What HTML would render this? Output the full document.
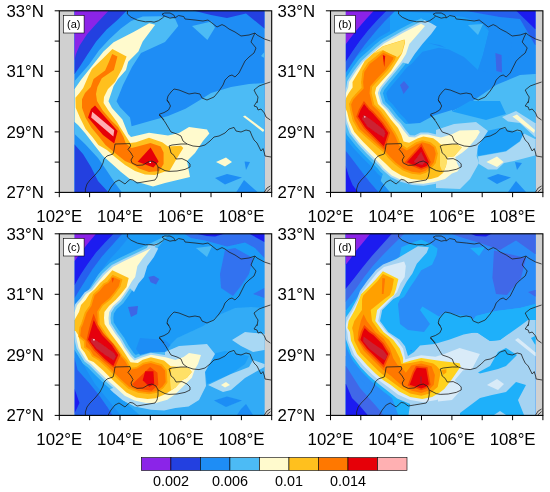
<!DOCTYPE html>
<html><head><meta charset="utf-8"><title>figure</title>
<style>
html,body{margin:0;padding:0;background:#fff;}
body{width:550px;height:492px;overflow:hidden;}
svg{display:block;}
text{font-family:"Liberation Sans",sans-serif;fill:#000;}
.tl{font-size:16.8px;}
.cb{font-size:14.4px;}
.pl{font-size:11px;}
</style></head><body>
<svg width="550" height="492" viewBox="0 0 550 492">
<defs>
<clipPath id="clipd"><rect x="74.6" y="10.8" width="189.8" height="181.6"/></clipPath>
<clipPath id="clipf"><rect x="59.3" y="10.8" width="212.4" height="181.6"/></clipPath>
<filter id="bl10" x="-5%" y="-5%" width="110%" height="110%"><feGaussianBlur stdDeviation="1.0"/></filter>
<filter id="bl07" x="-5%" y="-5%" width="110%" height="110%"><feGaussianBlur stdDeviation="0.7"/></filter>
<filter id="bl05" x="-5%" y="-5%" width="110%" height="110%"><feGaussianBlur stdDeviation="0.5"/></filter>
</defs>
<rect width="550" height="492" fill="#fff"/>

<g transform="translate(0.0,0.0)">
<rect x="59.3" y="10.8" width="212.4" height="181.6" fill="#d0d0d0"/>
<g clip-path="url(#clipd)">
<rect x="71.6" y="7.8" width="195.8" height="187.6" fill="#1e8df5"/>
<g>
<rect x="66.6" y="2.8" width="205.8" height="197.6" fill="#1e8df5"/>
<polygon fill="#4cbbf5" points="70.0,81.0 74.6,81.0 88.9,64.7 99.1,50.2 109.3,39.3 120.9,28.4 131.1,21.1 142.7,16.6 160.0,16.2 175.0,18.6 178.3,26.0 165.0,42.0 141.0,53.0 132.0,67.0 123.0,85.0 116.5,101.3 120.0,107.3 130.0,117.5 131.6,126.2 150.0,121.0 168.0,116.0 185.5,108.7 200.0,100.0 211.0,93.0 231.0,87.0 249.0,84.0 264.4,83.0 270.0,83.0 270.0,197.0 122.0,197.0 122.0,192.4 115.0,183.0 107.0,171.0 98.0,158.0 85.0,144.0 74.6,134.0 70.0,134.0"/>
<polygon fill="#4cbbf5" points="192.0,26.0 211.4,21.4 215.0,27.4 207.4,40.0"/>
<polygon fill="#4cbbf5" points="261.0,56.0 264.4,52.0 270.0,52.0 270.0,58.0 264.4,58.0"/>
<polygon fill="#1e8df5" points="215.0,178.0 227.0,174.0 242.0,177.4 225.0,184.6"/>
<polygon fill="#1e8df5" points="244.6,161.4 250.0,162.0 246.0,170.0"/>
<polygon fill="#1e8df5" points="244.0,180.0 236.0,192.4 236.0,197.0 258.0,197.0 258.0,192.4"/>
<polygon fill="#2340e0" points="70.0,5.0 126.7,5.0 126.7,10.6 118.0,19.6 106.4,29.8 96.2,41.5 87.5,54.5 80.2,66.0 74.6,74.0 70.0,74.0"/>
<polygon fill="#2340e0" points="70.0,144.6 74.6,144.6 83.0,154.0 91.0,167.0 98.0,181.0 108.6,192.4 108.6,197.0 70.0,197.0"/>
<polygon fill="#2340e0" points="193.0,5.0 193.0,10.6 211.0,15.0 227.0,18.0 246.0,13.4 264.4,28.6 270.0,28.6 270.0,5.0"/>
<polygon fill="#8b24e8" points="70.0,5.0 108.8,5.0 108.8,10.6 97.5,22.5 87.0,34.2 79.5,45.8 75.8,54.5 74.6,60.0 70.0,60.0"/>
<polygon fill="#fffacd" points="70.0,89.0 74.6,89.0 81.6,79.0 91.8,66.2 103.5,51.6 113.6,42.2 134.0,31.7 149.2,23.3 155.2,24.8 142.7,41.5 138.4,51.6 128.2,61.8 126.0,70.0 118.0,79.0 113.6,86.0 108.5,101.3 112.0,108.0 122.4,119.5 128.2,134.0 131.0,137.0 149.0,132.7 168.0,135.6 179.0,133.0 189.0,127.0 207.0,129.5 209.4,133.4 203.0,141.0 195.0,153.0 187.0,161.0 190.0,177.0 165.0,183.0 153.0,186.6 141.0,183.0 131.0,180.0 121.0,172.0 111.0,163.0 103.0,156.0 95.0,146.0 85.0,133.0 78.0,125.0 74.6,122.0 70.0,122.0"/>
<polygon fill="#fffacd" points="216.0,162.0 226.0,157.4 232.0,162.0 225.0,166.6"/>
<polygon fill="#fffacd" points="243.0,116.6 245.0,115.4 264.4,130.0 263.0,132.0"/>
<polygon fill="#ffc01e" points="112.4,48.9 126.6,56.6 122.0,69.0 115.0,82.0 108.0,89.0 104.0,97.0 103.6,103.0 108.4,110.6 117.0,122.0 120.0,127.0 130.2,143.0 136.0,142.2 149.0,137.8 162.2,142.2 168.0,146.5 181.0,145.8 183.3,148.0 175.3,161.0 169.5,171.0 165.0,171.5 155.0,175.0 145.0,174.5 135.0,171.0 125.0,165.0 115.0,157.0 107.0,150.0 98.4,145.0 92.8,137.6 85.6,129.0 80.0,117.7 75.7,107.7 75.4,97.8 79.5,93.0 83.2,88.0 88.6,75.6 91.9,69.0 102.9,58.6"/>
<polygon fill="#ff7800" points="112.2,53.9 117.4,56.4 113.9,70.1 101.8,78.3 97.4,87.0 96.0,94.0 97.0,101.0 102.7,110.6 111.3,120.5 118.0,127.0 123.5,137.0 125.8,143.6 131.6,148.0 137.5,146.5 150.5,143.0 160.7,146.5 163.6,152.4 163.6,164.0 159.3,171.0 149.0,172.0 139.0,168.5 132.0,164.0 125.0,161.0 115.0,153.0 105.5,145.0 98.4,136.0 91.3,127.6 85.6,117.7 82.0,107.7 82.0,99.2 85.0,93.0 90.8,87.0 93.6,78.9 105.1,70.6 108.9,61.9"/>
<polygon fill="#e60008" points="95.0,105.4 106.0,118.0 117.6,131.0 114.2,143.4 103.0,135.0 88.0,117.4 91.0,109.0"/>
<polygon fill="#ffb0b2" points="92.2,111.8 114.2,130.2 113.4,136.6 91.2,117.6"/>
<polygon fill="#e60008" points="150.6,147.4 158.6,161.4 153.4,167.4 137.6,161.8"/>
<polygon fill="#ffffff" points="149.3,161.3 151.0,161.3 151.0,163.0 149.3,163.0"/>
</g></g>
<g clip-path="url(#clipf)" fill="none" stroke="#202020" stroke-width="0.8" stroke-linejoin="round">
<polyline points="127.5,10.8 127.3,14.0 131.0,17.2 137.5,20.2 145.4,21.8 151.0,21.6 154.0,22.2 158.5,20.7 162.4,18.0 164.5,16.0 162.0,14.2 164.5,13.0 170.0,13.0 173.7,14.9 175.3,17.7 178.6,15.5 183.8,16.6 185.0,19.0"/>
<polyline points="164.5,16.0 170.0,18.2 173.0,17.6 175.3,17.7"/>
<polyline points="185.0,19.0 195.0,20.0 203.0,21.0 208.0,20.0 212.0,23.0 217.0,27.0 222.0,24.6 225.0,26.0 229.0,29.0 235.0,32.0 241.0,36.0 249.0,35.0 255.0,33.0 257.0,35.0 264.4,39.0 270.4,41.0"/>
<polyline points="255.0,33.0 253.0,37.0 251.0,42.0 256.0,48.0 254.0,53.0 249.0,57.0 245.0,61.0 242.0,67.0 239.0,73.0 235.0,77.0 232.0,75.0 229.0,76.0 225.0,80.0 223.0,85.0 219.0,91.0 214.0,97.0 207.0,100.0 202.0,98.0 200.0,94.0 195.0,93.0 189.0,94.0 184.0,92.0 179.0,90.0 174.0,89.0 171.0,92.0 168.0,96.0 167.0,100.0 169.0,103.0"/>
<polyline points="270.4,82.0 264.4,84.0 259.0,86.0 254.0,90.0 256.0,94.0 258.0,97.0 257.0,103.0"/>
<polyline points="167.0,100.0 169.0,103.0 170.5,106.0 168.5,110.0 164.0,112.6 159.3,114.2 161.5,117.0 164.0,120.0"/>
<polyline points="159.0,115.0 162.0,118.0 165.0,122.0 168.0,127.0 171.0,132.0 177.0,134.0 181.0,136.0 183.0,141.0 187.0,144.0 193.0,146.0 199.0,146.6 205.0,145.0 210.0,141.0 214.0,137.0 219.0,136.0 225.0,133.0 229.0,129.0 234.0,127.4 236.0,131.0 241.0,132.0 246.0,130.0 250.0,131.0 252.0,136.0 254.0,140.0 257.0,143.0 259.0,147.0 261.0,151.0 263.0,148.6 264.4,153.0 265.0,156.0 271.0,157.0"/>
<polyline points="187.0,144.0 181.0,144.0 172.0,145.0 169.0,146.0 170.0,149.0 171.0,153.0 174.0,155.4 176.0,159.0 182.0,158.6 187.0,161.0 190.0,164.0 190.0,167.0 185.0,169.4 177.0,171.0 169.0,171.4 165.0,170.6 158.0,167.0"/>
<polyline points="257.0,101.4 256.0,103.0 254.0,106.0 257.0,107.0 258.0,110.0 261.0,109.0 264.4,113.0 266.0,117.0 270.4,120.0"/>
<polyline points="264.4,192.0 267.0,188.0 270.4,186.0"/>
<polyline points="266.6,192.0 270.4,188.6"/>
<polyline points="115.0,144.0 130.0,143.6 130.6,146.0 128.0,149.4 131.0,153.0 133.0,156.6 131.0,160.0 132.0,163.0 137.0,165.4 143.0,165.0 148.0,162.0 152.0,161.0 156.0,163.0 158.0,167.0 158.0,172.0 157.0,177.0 155.0,180.0 149.0,181.0 143.0,182.0 137.0,183.0 133.0,180.0 130.0,179.4 127.0,182.0 125.0,184.0 119.0,180.0 115.0,182.0 111.0,187.0 108.0,192.4"/>
<polyline points="115.0,144.0 114.0,150.0 113.0,154.0 107.0,156.0 104.0,159.0 103.0,163.0 100.0,169.0 95.0,175.0 90.0,180.0 87.0,184.0 85.4,189.0 85.4,192.4"/>
</g>
<rect x="59.3" y="10.8" width="212.4" height="181.6" fill="none" stroke="#000" stroke-width="1.1"/>
<path d="M59.3 10.8h-4.6M59.3 41.1h-4.6M59.3 71.3h-4.6M59.3 101.6h-4.6M59.3 131.9h-4.6M59.3 162.1h-4.6M59.3 192.4h-4.6M59.3 192.4v4.8M89.6 192.4v4.8M120.0 192.4v4.8M150.3 192.4v4.8M180.7 192.4v4.8M211.0 192.4v4.8M241.4 192.4v4.8M271.7 192.4v4.8" stroke="#000" stroke-width="1.0" fill="none"/>
<text class="tl" x="43.9" y="16.8" text-anchor="end">33°N</text>
<text class="tl" x="43.9" y="77.3" text-anchor="end">31°N</text>
<text class="tl" x="43.9" y="137.9" text-anchor="end">29°N</text>
<text class="tl" x="43.9" y="198.4" text-anchor="end">27°N</text>
<text class="tl" x="59.3" y="222.0" text-anchor="middle">102°E</text>
<text class="tl" x="120.0" y="222.0" text-anchor="middle">104°E</text>
<text class="tl" x="180.7" y="222.0" text-anchor="middle">106°E</text>
<text class="tl" x="241.4" y="222.0" text-anchor="middle">108°E</text>
<rect x="63.5" y="15.4" width="20.6" height="17.6" fill="#fff" stroke="#000" stroke-width="0.6"/>
<text class="pl" x="73.8" y="27.6" text-anchor="middle">(a)</text>
</g>
<g transform="translate(271.2,0.0)">
<rect x="59.3" y="10.8" width="212.4" height="181.6" fill="#d0d0d0"/>
<g clip-path="url(#clipd)">
<rect x="71.6" y="7.8" width="195.8" height="187.6" fill="#1e8df5"/>
<g filter="url(#bl07)">
<rect x="66.6" y="2.8" width="205.8" height="197.6" fill="#1e8df5"/>
<polygon fill="#1e9ff8" points="118.8,11.0 156.8,13.0 168.8,14.0 192.8,17.0 211.8,24.0 217.8,31.0 211.8,55.0 206.8,70.0 192.8,57.0 168.8,45.0 156.8,43.0 183.8,50.6 167.7,47.8 151.2,51.7 140.2,64.0 123.8,75.0 108.8,60.0 118.8,40.0"/>
<polygon fill="#1e9ff8" points="60.8,87.0 60.8,119.7 67.6,120.0 68.2,123.1 73.0,136.4 82.2,148.2 91.2,157.7 97.8,164.2 104.0,170.7 106.5,173.8 116.1,182.3 127.4,187.5 139.8,191.1 152.6,191.8 164.9,189.9 177.5,186.1 184.6,180.6 191.4,178.1 197.7,168.7 193.6,160.8 193.5,160.6 195.3,159.4 201.6,154.3 211.4,143.3 218.3,131.5 210.8,121.8 186.4,122.5 177.7,126.8 169.4,129.3 166.6,128.7 157.8,126.5 147.9,126.5 142.2,129.3 141.8,129.3 139.1,126.1 133.9,118.8 128.8,113.7 121.8,104.7 116.9,99.8 115.0,93.4 115.8,91.5 119.4,87.1 128.7,76.1 136.3,66.6 142.1,57.3 145.2,48.1 151.8,40.5 166.2,23.9 150.0,14.6 137.2,21.2 128.2,25.8 118.9,31.0 108.4,37.0 101.6,42.4 95.3,48.1 85.9,56.6 78.5,66.4 70.1,79.1 69.2,85.3 68.6,87.0 60.8,87.0"/>
<polygon fill="#4cbbf5" points="64.0,90.2 64.0,116.6 70.3,116.9 71.3,122.3 75.9,134.9 84.7,146.1 93.5,155.5 100.1,162.0 106.5,168.6 108.8,171.6 117.9,179.6 128.5,184.5 140.4,188.0 152.4,188.6 164.2,186.8 176.0,183.2 183.1,177.8 189.3,175.5 194.0,168.5 190.6,162.0 189.7,159.3 193.4,156.8 199.4,152.0 208.8,141.4 214.5,131.7 209.3,125.0 187.2,125.6 178.9,129.8 169.6,132.6 165.9,131.8 157.4,129.7 148.7,129.7 142.9,132.6 140.2,132.4 136.6,128.1 131.5,120.9 126.4,115.8 119.4,106.8 114.1,101.5 111.7,93.2 113.0,89.9 116.9,85.1 126.2,74.1 133.7,64.8 139.2,55.9 142.3,46.4 149.4,38.4 161.3,24.7 149.9,18.2 138.6,24.0 129.7,28.6 120.4,33.8 110.2,39.6 103.7,44.8 97.5,50.4 88.2,58.7 81.1,68.2 73.2,80.3 72.3,86.2 70.7,90.2 64.0,90.2"/>
<polygon fill="#4cbbf5" points="128.8,120.0 134.8,124.0 148.8,123.0 162.8,115.4 180.8,110.0 180.8,111.0 198.8,103.0 198.8,103.0 224.8,85.0 248.8,75.0 263.8,74.0 268.8,74.0 268.8,109.0 268.8,197.0 108.8,197.0 108.8,183.0"/>
<polygon fill="#4cbbf5" points="196.8,25.0 211.8,24.0 206.8,35.0"/>
<polygon fill="#1e8df5" points="211.8,24.0 218.8,25.0 234.8,31.0 240.8,45.0 234.8,65.0 228.8,75.0 206.8,70.0 211.8,55.0 217.8,31.0"/>
<polygon fill="#3c66e6" points="224.2,53.0 230.4,55.0 230.8,72.6 225.2,71.0"/>
<polygon fill="#3c66e6" points="128.8,85.0 132.8,81.0 137.8,87.0 132.4,94.0"/>
<polygon fill="#1e8df5" points="215.8,178.0 226.8,174.0 239.8,177.4 225.8,184.0"/>
<polygon fill="#1e8df5" points="243.8,162.0 250.8,163.0 245.8,170.0"/>
<polygon fill="#1e8df5" points="244.8,181.0 236.8,192.0 236.8,197.0 254.8,197.0 254.8,192.0"/>
<polygon fill="#2860ee" points="68.8,5.0 123.8,5.0 123.8,11.0 113.8,21.0 104.0,32.0 94.2,44.0 85.4,56.0 74.3,73.0 68.8,73.0"/>
<polygon fill="#1c1cf0" points="68.8,5.0 115.0,5.0 115.0,11.0 106.2,19.9 97.4,29.7 88.7,40.7 81.0,51.7 74.3,62.0 68.8,62.0"/>
<polygon fill="#8b24e8" points="68.8,5.0 102.4,5.0 102.4,11.0 95.2,18.8 87.6,27.5 78.8,38.5 74.3,44.5 68.8,44.5"/>
<polygon fill="#1e8df5" points="68.8,140.0 74.5,140.0 80.3,147.0 91.7,158.5 101.9,171.2 110.8,182.6 118.4,191.8 118.4,197.0 68.8,197.0"/>
<polygon fill="#2860ee" points="68.8,150.8 74.5,150.8 81.5,159.7 89.2,169.9 98.1,181.4 107.0,191.8 107.0,197.0 68.8,197.0"/>
<polygon fill="#1c1cf0" points="68.8,166.0 74.5,166.0 77.7,176.3 81.5,185.2 86.6,191.8 86.6,197.0 68.8,197.0"/>
<polygon fill="#2860ee" points="192.8,5.0 192.8,10.6 208.8,13.4 228.8,17.0 248.8,19.0 263.8,45.0 268.8,45.0 268.8,5.0"/>
<polygon fill="#1c1cf0" points="244.8,5.0 244.8,10.6 263.8,29.0 268.8,29.0 268.8,5.0"/>
<polygon fill="#a8d8f4" points="66.9,93.1 66.9,113.8 72.7,114.0 74.1,121.5 78.4,133.4 86.9,144.2 95.5,153.4 102.1,159.9 108.7,166.7 110.9,169.6 119.5,177.1 129.5,181.8 140.9,185.1 152.3,185.7 163.5,184.0 174.7,180.6 181.6,175.2 187.4,173.1 190.6,168.3 188.0,163.2 186.3,158.1 191.7,154.4 197.4,149.9 206.4,139.7 211.0,132.0 207.9,128.0 187.9,128.5 180.0,132.5 169.7,135.5 165.2,134.6 157.0,132.6 149.4,132.6 143.4,135.6 138.8,135.2 134.3,129.8 129.3,122.8 124.2,117.7 117.2,108.7 111.5,103.0 108.6,93.1 110.5,88.4 114.7,83.2 124.0,72.2 131.4,63.1 136.5,54.7 139.8,45.0 147.2,36.4 156.7,25.5 149.9,21.5 139.9,26.6 131.1,31.1 121.9,36.3 111.8,42.0 105.6,47.1 99.4,52.6 90.4,60.7 83.4,69.9 76.0,81.3 75.2,86.9 73.0,92.4 72.8,93.1 66.9,93.1"/>
<polygon fill="#a8d8f4" points="152.8,20.0 160.0,23.2 165.5,26.4 160.0,34.1 151.2,44.0 143.5,53.9 137.0,64.0 129.8,62.0 138.1,44.0 145.8,35.2"/>
<polygon fill="#1e9ff8" points="206.8,133.0 228.8,128.0 252.8,133.0 248.8,141.0 234.8,151.0 206.8,156.0 205.4,146.0"/>
<polygon fill="#1e9ff8" points="198.8,101.0 228.8,101.0 234.8,114.0 214.8,120.0 180.8,111.4"/>
<polygon fill="#a8d8f4" points="164.8,130.0 182.8,124.0 204.8,122.0 216.8,131.0 206.8,146.0 205.4,156.0 207.8,163.0 198.8,179.0 188.8,189.0 164.8,188.0"/>
<polygon fill="#a8d8f4" points="206.8,156.6 234.8,151.6 248.8,141.6 252.8,133.4 263.8,139.0 268.8,139.0 268.8,155.4 263.8,155.4 242.8,161.0 232.8,163.0 225.8,169.4 216.8,169.4 207.8,164.0"/>
<polygon fill="#a8d8f4" points="230.8,117.0 244.8,111.0 263.8,123.0 268.8,123.0 268.8,137.0 263.8,137.0 248.8,123.0 236.8,121.4"/>
<polygon fill="#fffacd" points="68.8,95.0 74.3,95.0 74.8,93.0 77.0,87.4 77.8,82.0 85.0,71.0 91.8,62.0 100.7,54.0 106.8,48.5 112.9,43.6 122.8,38.0 132.0,32.8 140.8,28.3 149.8,23.7 153.8,26.0 145.8,35.2 138.1,44.0 134.8,53.9 129.8,62.0 122.5,71.0 113.2,82.0 108.8,87.4 106.6,93.0 109.8,104.0 115.8,110.0 122.8,119.0 127.8,124.0 132.8,131.0 137.8,137.0 143.8,137.5 149.8,134.5 156.8,134.5 164.8,136.5 169.8,137.5 180.7,134.3 188.4,130.4 207.0,129.9 208.7,132.1 204.9,138.6 196.1,148.5 190.6,152.9 184.0,157.3 186.2,163.9 188.4,168.2 186.2,171.5 180.7,173.5 173.8,178.9 163.1,182.1 152.2,183.8 141.2,183.2 130.2,180.0 120.5,175.5 112.3,168.3 110.1,165.5 103.5,158.6 96.9,152.1 88.3,143.0 80.1,132.5 75.9,121.0 74.3,112.2 68.8,112.0"/>
<polygon fill="#fffacd" points="215.2,162.0 225.8,156.6 232.4,162.0 225.8,167.0"/>
<polygon fill="#fffacd" points="241.2,116.6 245.8,114.6 263.8,130.0 262.8,133.0"/>
<polygon fill="#ffc01e" points="68.8,100.0 74.1,100.0 75.3,97.0 77.6,93.0 81.4,87.4 81.3,82.0 88.0,71.0 93.5,61.0 101.8,53.5 111.7,46.2 133.3,39.5 133.8,43.0 130.8,53.5 126.8,60.0 119.8,71.0 109.8,82.0 105.0,87.4 103.7,93.0 106.8,104.0 112.8,110.0 119.3,119.0 126.8,128.0 130.2,135.0 132.4,141.6 137.9,142.7 146.7,138.3 152.2,136.6 162.0,138.3 165.8,141.0 169.8,144.7 185.1,144.1 190.6,147.4 182.9,156.2 176.3,157.3 174.8,166.0 171.8,173.0 166.8,177.0 159.8,178.9 150.0,180.0 140.1,178.9 130.2,175.6 120.7,169.8 113.8,163.0 107.3,157.1 100.7,150.5 92.1,142.0 83.1,131.9 78.1,121.0 75.9,112.0 74.1,108.0 68.8,108.0"/>
<polygon fill="#ffe066" points="169.8,144.7 185.1,144.1 190.6,147.4 182.9,156.2 176.3,157.3 174.8,166.0 171.8,173.0 168.8,166.0 168.8,150.0"/>
<polygon fill="#ffe066" points="102.8,53.5 111.7,46.6 132.8,40.0 133.3,43.0 130.3,53.5 126.3,57.0 118.8,54.0 111.7,50.0"/>
<polygon fill="#ffa000" points="81.5,120.7 86.9,130.3 96.7,139.0 105.5,146.7 113.3,153.3 117.4,158.5 123.1,164.0 131.7,170.5 140.3,173.7 148.8,174.8 155.1,172.7 160.3,168.4 164.6,163.1 166.7,153.6 164.6,146.5 159.4,142.3 151.1,140.2 144.8,142.3 135.7,148.0 129.6,144.3 126.3,136.3 124.1,132.3 117.1,121.5 109.2,110.5 103.1,104.4 100.3,93.1 100.9,87.1 106.0,81.5 116.4,70.5 123.5,60.6 124.9,56.4 111.8,50.4 104.5,56.6 96.9,62.5 91.2,71.3 89.9,82.0 90.4,87.7 84.8,93.5 80.5,98.4 77.8,104.1 79.2,111.8 81.5,120.7"/>
<polygon fill="#ff7800" points="83.4,119.9 88.5,129.0 98.1,137.5 106.8,145.2 114.7,151.9 118.9,157.1 124.4,162.5 132.7,168.7 140.8,171.8 148.6,172.7 154.1,170.9 158.9,167.0 162.7,162.3 164.6,153.7 162.9,147.6 158.5,144.2 151.2,142.3 145.7,144.2 135.7,150.4 128.0,145.7 124.5,137.2 122.4,133.3 115.5,122.6 107.7,111.8 101.3,105.4 98.3,93.2 99.0,86.2 104.5,80.1 114.8,69.2 121.7,59.7 122.4,57.5 112.1,52.8 105.8,58.2 98.4,63.9 93.1,72.0 91.9,82.0 92.5,88.4 86.3,94.9 82.2,99.5 79.9,104.4 81.1,111.4 83.4,119.9"/>
<polygon fill="#f84800" points="92.7,100.9 87.8,109.3 85.0,116.8 92.7,128.6 113.5,149.4 118.9,132.7 111.8,122.2 101.8,111.0 99.0,108.8 92.7,100.9"/>
<polygon fill="#e60008" points="92.9,103.9 97.8,110.0 100.6,112.2 110.5,123.2 117.0,133.0 112.7,146.2 105.0,138.5 94.0,127.5 86.9,116.6 89.3,110.0"/>
<polygon fill="#cc2030" points="92.4,114.4 101.7,121.0 112.7,129.7 114.3,133.6 112.7,137.4 105.0,133.0 96.2,126.4 90.7,118.8"/>
<polygon fill="#ffffff" points="93.0,116.2 94.2,116.2 94.2,117.6 93.0,117.6"/>
<polygon fill="#f84800" points="150.4,143.5 132.8,162.9 150.0,169.7 157.3,167.0 159.6,161.9 150.4,143.5"/>
<polygon fill="#e60008" points="150.0,146.5 157.7,161.9 156.0,165.7 150.0,167.9 135.7,162.2"/>
<polygon fill="#cc2030" points="150.0,151.4 154.4,161.3 151.1,165.2 142.3,161.9"/>
<polygon fill="#e60008" points="111.6,55.0 114.0,56.0 113.0,67.0"/>
</g></g>
<g clip-path="url(#clipf)" fill="none" stroke="#202020" stroke-width="0.8" stroke-linejoin="round">
<polyline points="127.5,10.8 127.3,14.0 131.0,17.2 137.5,20.2 145.4,21.8 151.0,21.6 154.0,22.2 158.5,20.7 162.4,18.0 164.5,16.0 162.0,14.2 164.5,13.0 170.0,13.0 173.7,14.9 175.3,17.7 178.6,15.5 183.8,16.6 185.0,19.0"/>
<polyline points="164.5,16.0 170.0,18.2 173.0,17.6 175.3,17.7"/>
<polyline points="185.0,19.0 195.0,20.0 203.0,21.0 208.0,20.0 212.0,23.0 217.0,27.0 222.0,24.6 225.0,26.0 229.0,29.0 235.0,32.0 241.0,36.0 249.0,35.0 255.0,33.0 257.0,35.0 264.4,39.0 270.4,41.0"/>
<polyline points="255.0,33.0 253.0,37.0 251.0,42.0 256.0,48.0 254.0,53.0 249.0,57.0 245.0,61.0 242.0,67.0 239.0,73.0 235.0,77.0 232.0,75.0 229.0,76.0 225.0,80.0 223.0,85.0 219.0,91.0 214.0,97.0 207.0,100.0 202.0,98.0 200.0,94.0 195.0,93.0 189.0,94.0 184.0,92.0 179.0,90.0 174.0,89.0 171.0,92.0 168.0,96.0 167.0,100.0 169.0,103.0"/>
<polyline points="270.4,82.0 264.4,84.0 259.0,86.0 254.0,90.0 256.0,94.0 258.0,97.0 257.0,103.0"/>
<polyline points="167.0,100.0 169.0,103.0 170.5,106.0 168.5,110.0 164.0,112.6 159.3,114.2 161.5,117.0 164.0,120.0"/>
<polyline points="159.0,115.0 162.0,118.0 165.0,122.0 168.0,127.0 171.0,132.0 177.0,134.0 181.0,136.0 183.0,141.0 187.0,144.0 193.0,146.0 199.0,146.6 205.0,145.0 210.0,141.0 214.0,137.0 219.0,136.0 225.0,133.0 229.0,129.0 234.0,127.4 236.0,131.0 241.0,132.0 246.0,130.0 250.0,131.0 252.0,136.0 254.0,140.0 257.0,143.0 259.0,147.0 261.0,151.0 263.0,148.6 264.4,153.0 265.0,156.0 271.0,157.0"/>
<polyline points="187.0,144.0 181.0,144.0 172.0,145.0 169.0,146.0 170.0,149.0 171.0,153.0 174.0,155.4 176.0,159.0 182.0,158.6 187.0,161.0 190.0,164.0 190.0,167.0 185.0,169.4 177.0,171.0 169.0,171.4 165.0,170.6 158.0,167.0"/>
<polyline points="257.0,101.4 256.0,103.0 254.0,106.0 257.0,107.0 258.0,110.0 261.0,109.0 264.4,113.0 266.0,117.0 270.4,120.0"/>
<polyline points="264.4,192.0 267.0,188.0 270.4,186.0"/>
<polyline points="266.6,192.0 270.4,188.6"/>
<polyline points="115.0,144.0 130.0,143.6 130.6,146.0 128.0,149.4 131.0,153.0 133.0,156.6 131.0,160.0 132.0,163.0 137.0,165.4 143.0,165.0 148.0,162.0 152.0,161.0 156.0,163.0 158.0,167.0 158.0,172.0 157.0,177.0 155.0,180.0 149.0,181.0 143.0,182.0 137.0,183.0 133.0,180.0 130.0,179.4 127.0,182.0 125.0,184.0 119.0,180.0 115.0,182.0 111.0,187.0 108.0,192.4"/>
<polyline points="115.0,144.0 114.0,150.0 113.0,154.0 107.0,156.0 104.0,159.0 103.0,163.0 100.0,169.0 95.0,175.0 90.0,180.0 87.0,184.0 85.4,189.0 85.4,192.4"/>
</g>
<rect x="59.3" y="10.8" width="212.4" height="181.6" fill="none" stroke="#000" stroke-width="1.1"/>
<path d="M59.3 10.8h-4.6M59.3 41.1h-4.6M59.3 71.3h-4.6M59.3 101.6h-4.6M59.3 131.9h-4.6M59.3 162.1h-4.6M59.3 192.4h-4.6M59.3 192.4v4.8M89.6 192.4v4.8M120.0 192.4v4.8M150.3 192.4v4.8M180.7 192.4v4.8M211.0 192.4v4.8M241.4 192.4v4.8M271.7 192.4v4.8" stroke="#000" stroke-width="1.0" fill="none"/>
<text class="tl" x="43.9" y="16.8" text-anchor="end">33°N</text>
<text class="tl" x="43.9" y="77.3" text-anchor="end">31°N</text>
<text class="tl" x="43.9" y="137.9" text-anchor="end">29°N</text>
<text class="tl" x="43.9" y="198.4" text-anchor="end">27°N</text>
<text class="tl" x="59.3" y="222.0" text-anchor="middle">102°E</text>
<text class="tl" x="120.0" y="222.0" text-anchor="middle">104°E</text>
<text class="tl" x="180.7" y="222.0" text-anchor="middle">106°E</text>
<text class="tl" x="241.4" y="222.0" text-anchor="middle">108°E</text>
<rect x="63.5" y="15.4" width="20.6" height="17.6" fill="#fff" stroke="#000" stroke-width="0.6"/>
<text class="pl" x="73.8" y="27.6" text-anchor="middle">(b)</text>
</g>
<g transform="translate(0.0,223.0)">
<rect x="59.3" y="10.8" width="212.4" height="181.6" fill="#d0d0d0"/>
<g clip-path="url(#clipd)">
<rect x="71.6" y="7.8" width="195.8" height="187.6" fill="#1e9bf7"/>
<g filter="url(#bl07)">
<rect x="66.6" y="2.8" width="205.8" height="197.6" fill="#1e9bf7"/>
<polygon fill="#30abf6" points="203.0,103.0 221.0,91.0 235.0,85.0 251.0,84.0 264.4,85.0 269.0,85.0 269.0,109.0 269.0,197.0 145.0,197.0 125.0,179.0 145.0,139.0 165.0,127.0 177.0,115.0"/>
<polygon fill="#4cbbf5" points="65.2,84.2 65.2,110.8 70.8,110.8 70.8,111.0 72.4,119.8 74.1,126.8 78.0,133.3 82.4,140.3 87.6,144.3 96.2,152.9 104.0,160.6 111.7,167.3 122.0,176.7 132.9,182.2 145.5,184.9 156.5,184.9 169.4,181.2 178.6,174.8 188.7,164.7 195.9,157.3 199.3,148.1 202.4,143.0 207.3,128.2 187.8,124.9 181.3,129.7 175.3,132.0 166.6,129.6 150.6,126.9 141.1,129.8 135.7,131.9 133.7,129.9 128.5,122.5 124.0,114.4 119.4,108.2 113.7,99.4 113.3,95.1 113.8,90.6 116.7,86.1 123.2,80.2 127.9,73.7 132.7,66.5 135.9,60.9 139.7,55.9 141.9,44.9 146.7,38.1 168.3,11.7 135.3,27.5 121.1,34.3 110.2,39.8 100.5,48.7 93.2,57.5 88.9,63.4 82.5,67.4 77.9,74.0 72.9,79.5 71.2,84.2 65.2,84.2"/>
<polygon fill="#1e9ff8" points="204.0,133.0 225.0,128.0 249.0,133.0 245.0,141.0 231.0,151.0 207.0,161.0 205.0,148.0"/>
<polygon fill="#1e8df5" points="136.0,126.0 140.0,132.0 150.0,129.5 165.0,129.0 170.6,122.0 165.0,117.0 140.0,115.0"/>
<polygon fill="#3c66e6" points="148.4,53.9 153.9,52.8 159.3,56.0 156.0,61.5 150.6,59.3"/>
<polygon fill="#3c66e6" points="128.0,84.0 138.0,83.0 137.0,91.0 131.0,94.0"/>
<polygon fill="#3272f0" points="225.0,27.0 235.0,25.0 253.0,35.0 249.0,51.0 241.0,63.0 233.0,73.0 221.0,65.0 220.0,51.0"/>
<polygon fill="#3272f0" points="253.0,71.0 264.4,65.0 269.0,65.0 269.0,75.0 264.4,75.0 259.0,73.0"/>
<polygon fill="#4cbbf5" points="196.0,25.0 212.0,23.0 207.0,34.0"/>
<polygon fill="#1e8df5" points="214.0,177.4 227.0,173.4 242.0,177.4 226.0,184.0"/>
<polygon fill="#1e8df5" points="241.0,186.0 246.0,181.0 253.0,192.0 253.0,197.0 237.0,197.0 237.0,192.0"/>
<polygon fill="#1e8df5" points="70.0,5.0 129.8,5.0 129.8,13.3 118.9,26.4 107.9,38.5 98.0,51.7 90.4,64.0 80.0,80.0 70.0,97.0"/>
<polygon fill="#2860ee" points="70.0,5.0 122.1,5.0 122.1,11.0 112.3,22.1 102.4,33.0 92.5,46.2 84.9,58.2 74.6,75.0 70.0,75.0"/>
<polygon fill="#1c1cf0" points="70.0,5.0 113.4,5.0 113.4,11.0 104.6,19.9 95.8,29.7 87.1,41.8 80.5,51.7 74.6,62.0 70.0,62.0"/>
<polygon fill="#8b24e8" points="70.0,5.0 95.8,5.0 95.8,11.0 88.2,19.9 81.6,28.6 74.6,38.0 70.0,38.0"/>
<polygon fill="#1e8df5" points="55.0,127.0 74.6,127.0 95.0,161.0 121.0,192.4 121.0,197.0 55.0,197.0"/>
<polygon fill="#2860ee" points="70.0,135.0 74.6,135.0 77.6,147.0 89.0,159.7 99.3,172.5 108.2,185.2 113.0,193.0 113.0,197.0 70.0,197.0"/>
<polygon fill="#1c1cf0" points="70.0,166.0 74.6,166.0 79.5,180.0 74.6,190.0 70.0,190.0"/>
<polygon fill="#3070f0" points="184.0,5.0 184.0,10.6 191.0,15.0 205.0,17.4 227.0,23.4 245.0,19.4 255.0,25.0 264.4,35.0 269.0,35.0 269.0,5.0"/>
<polygon fill="#1c1cf0" points="195.0,5.0 195.0,10.6 207.0,13.0 215.0,13.4 225.0,10.6 225.0,5.0"/>
<polygon fill="#1c1cf0" points="249.0,5.0 249.0,10.6 264.4,19.0 269.0,19.0 269.0,5.0"/>
<polygon fill="#a8d8f4" points="68.0,87.0 68.0,108.0 73.0,108.0 73.5,110.4 75.1,119.2 76.7,125.8 80.4,131.8 84.5,138.4 89.5,142.2 98.2,150.9 105.9,158.6 113.6,165.2 123.6,174.4 133.8,179.5 145.8,182.1 156.1,182.1 168.2,178.6 176.8,172.6 186.7,162.7 193.5,155.8 196.8,146.9 199.8,141.8 203.6,130.4 188.5,127.9 182.6,132.2 175.4,134.9 166.0,132.3 150.8,129.7 142.0,132.4 135.0,135.2 131.5,131.7 126.1,123.9 121.7,115.9 117.1,109.9 111.0,100.3 110.5,95.0 111.1,89.7 114.5,84.3 121.1,78.3 125.6,72.1 130.3,65.0 133.6,59.3 137.1,54.7 139.3,43.7 144.5,36.4 158.2,19.6 136.5,30.0 122.3,36.8 111.9,42.1 102.5,50.6 95.4,59.3 90.8,65.5 84.5,69.5 80.0,75.7 75.3,81.0 73.2,87.0 68.0,87.0"/>
<polygon fill="#a8d8f4" points="148.4,21.5 158.2,25.4 153.9,34.1 147.3,42.9 144.0,53.9 138.5,60.4 134.0,69.0 128.6,64.0 135.2,53.9 137.4,42.9 142.9,35.2"/>
<polygon fill="#a8d8f4" points="165.0,129.0 179.0,123.0 207.0,121.0 215.0,131.0 205.0,149.0 206.0,163.0 199.0,177.0 188.6,183.4 175.5,185.0 164.0,187.5 150.9,186.7 134.5,183.4 123.1,177.6 113.3,169.5 110.0,166.2 120.0,162.0 140.0,157.0 165.0,147.0"/>
<polygon fill="#a8d8f4" points="208.0,162.0 231.0,151.0 249.0,144.0 253.0,137.0 264.4,141.0 269.0,141.0 269.0,144.0 264.4,144.0 245.0,155.0 231.0,167.0 223.0,169.0"/>
<polygon fill="#a8d8f4" points="232.0,117.0 245.0,109.0 264.4,111.0 269.0,111.0 269.0,127.0 264.4,127.0 253.0,129.0 241.0,123.0"/>
<polygon fill="#fffacd" points="70.0,89.0 74.6,89.0 77.1,82.0 81.6,77.0 85.9,71.0 92.2,67.0 97.0,60.5 104.0,52.0 113.0,43.8 123.2,38.6 137.4,31.8 151.0,25.3 142.9,35.2 137.4,42.9 135.2,53.9 131.9,58.2 128.6,64.0 124.0,71.0 119.6,77.0 113.0,83.0 109.2,89.0 108.5,95.0 109.0,101.0 115.5,111.0 120.0,117.0 124.4,125.0 130.0,133.0 134.5,137.5 142.7,134.3 150.9,131.8 165.6,134.3 175.5,137.0 183.6,134.0 189.0,130.0 201.0,132.0 198.0,141.0 195.0,146.0 191.8,154.7 185.3,161.3 175.5,171.1 167.3,176.8 155.8,180.1 146.0,180.1 134.5,177.6 124.7,172.7 114.9,163.7 107.3,157.1 99.6,149.5 90.8,140.7 86.0,137.0 82.1,130.8 78.6,125.0 77.1,118.8 75.5,110.0 74.6,106.0 70.0,106.0"/>
<polygon fill="#fffacd" points="221.0,162.0 226.0,159.0 230.0,162.0 225.0,164.6"/>
<polygon fill="#ffc01e" points="70.0,97.0 74.6,97.0 75.6,95.0 79.0,89.0 81.0,82.0 85.6,77.0 89.5,71.0 95.0,66.0 100.0,60.0 104.6,56.0 112.3,47.3 128.7,55.0 126.5,64.0 121.0,71.0 115.6,77.0 109.0,83.0 104.4,89.0 104.0,95.0 104.6,101.0 111.0,111.0 117.0,119.0 121.4,125.0 126.0,132.0 130.5,139.2 137.8,140.0 142.7,136.7 150.9,134.3 164.0,137.5 170.6,143.3 178.7,144.1 188.6,144.9 191.8,149.0 186.9,154.7 182.0,157.2 175.5,164.5 165.6,171.1 155.8,175.2 147.6,176.0 136.2,174.4 126.4,169.5 116.5,160.5 110.6,155.0 102.9,147.3 93.6,139.1 88.6,137.0 84.8,129.7 81.0,125.0 79.9,118.8 78.2,112.0 75.5,108.0 70.0,108.0"/>
<polygon fill="#ffe066" points="171.5,143.8 178.7,144.1 188.6,144.9 191.8,149.0 186.9,154.7 182.0,157.2 175.5,164.5 171.0,167.0 170.0,157.0"/>
<polygon fill="#ffa000" points="78.3,113.8 83.8,118.5 84.2,124.7 89.1,128.2 92.0,133.6 97.8,136.9 106.6,144.7 114.3,152.4 118.6,156.8 128.3,165.7 138.0,169.7 149.3,171.3 157.2,169.7 163.6,165.0 167.5,159.4 166.7,146.7 162.1,141.3 150.9,138.1 142.9,139.8 136.4,143.9 131.0,144.8 126.9,137.3 122.5,132.4 118.1,125.4 112.5,119.4 106.5,111.3 99.8,101.2 99.0,88.8 103.0,82.6 110.6,76.6 115.5,70.6 120.4,63.7 122.5,56.3 112.5,51.8 107.2,58.7 103.4,60.5 98.4,66.4 93.0,71.3 91.2,77.2 89.8,82.3 84.9,89.3 81.0,101.2 79.4,104.2 78.3,113.8"/>
<polygon fill="#ff7800" points="80.2,113.0 85.5,117.6 85.9,123.7 90.4,127.0 93.4,132.3 98.8,135.4 107.8,143.3 115.6,151.1 119.9,155.5 129.3,164.1 138.4,168.0 149.2,169.5 156.5,168.1 162.3,163.7 165.7,158.9 165.0,147.5 161.0,142.9 150.8,140.0 143.6,141.5 137.1,145.6 130.0,146.7 125.4,138.4 121.1,133.4 116.7,126.5 111.2,120.5 105.0,112.4 98.0,101.8 97.2,88.4 101.7,81.4 109.3,75.3 114.1,69.5 118.8,63.0 120.3,57.3 113.0,54.1 108.3,60.1 104.5,61.9 99.7,67.7 94.6,72.3 92.9,77.7 91.4,83.0 86.6,90.1 82.6,102.0 81.1,104.7 80.2,113.0"/>
<polygon fill="#f84800" points="93.6,90.5 97.4,101.0 103.0,110.0 113.5,121.0 120.5,132.0 114.5,145.5 104.0,137.5 93.8,127.5 86.5,117.0 88.5,108.0 90.3,101.0"/>
<polygon fill="#e60008" points="93.8,97.0 97.0,104.0 102.0,112.0 111.7,122.1 118.2,131.9 113.3,142.9 105.1,136.3 95.2,126.4 88.1,116.6 90.0,110.0 92.0,103.0"/>
<polygon fill="#cc2030" points="91.9,114.4 101.8,121.0 113.9,129.7 116.1,133.6 113.9,137.4 105.1,131.9 96.3,125.4 90.8,118.8"/>
<polygon fill="#ffffff" points="93.3,116.0 94.6,116.0 94.6,117.4 93.3,117.4"/>
<polygon fill="#f84800" points="150.1,144.1 132.1,161.3 137.0,165.4 151.7,167.8 158.3,162.1 157.5,149.8"/>
<polygon fill="#e60008" points="145.2,148.2 153.4,148.2 154.2,161.3 149.3,163.7 142.7,157.2"/>
<polygon fill="#f84800" points="111.5,54.5 114.0,55.5 112.5,60.0"/>
</g></g>
<g clip-path="url(#clipf)" fill="none" stroke="#202020" stroke-width="0.8" stroke-linejoin="round">
<polyline points="127.5,10.8 127.3,14.0 131.0,17.2 137.5,20.2 145.4,21.8 151.0,21.6 154.0,22.2 158.5,20.7 162.4,18.0 164.5,16.0 162.0,14.2 164.5,13.0 170.0,13.0 173.7,14.9 175.3,17.7 178.6,15.5 183.8,16.6 185.0,19.0"/>
<polyline points="164.5,16.0 170.0,18.2 173.0,17.6 175.3,17.7"/>
<polyline points="185.0,19.0 195.0,20.0 203.0,21.0 208.0,20.0 212.0,23.0 217.0,27.0 222.0,24.6 225.0,26.0 229.0,29.0 235.0,32.0 241.0,36.0 249.0,35.0 255.0,33.0 257.0,35.0 264.4,39.0 270.4,41.0"/>
<polyline points="255.0,33.0 253.0,37.0 251.0,42.0 256.0,48.0 254.0,53.0 249.0,57.0 245.0,61.0 242.0,67.0 239.0,73.0 235.0,77.0 232.0,75.0 229.0,76.0 225.0,80.0 223.0,85.0 219.0,91.0 214.0,97.0 207.0,100.0 202.0,98.0 200.0,94.0 195.0,93.0 189.0,94.0 184.0,92.0 179.0,90.0 174.0,89.0 171.0,92.0 168.0,96.0 167.0,100.0 169.0,103.0"/>
<polyline points="270.4,82.0 264.4,84.0 259.0,86.0 254.0,90.0 256.0,94.0 258.0,97.0 257.0,103.0"/>
<polyline points="167.0,100.0 169.0,103.0 170.5,106.0 168.5,110.0 164.0,112.6 159.3,114.2 161.5,117.0 164.0,120.0"/>
<polyline points="159.0,115.0 162.0,118.0 165.0,122.0 168.0,127.0 171.0,132.0 177.0,134.0 181.0,136.0 183.0,141.0 187.0,144.0 193.0,146.0 199.0,146.6 205.0,145.0 210.0,141.0 214.0,137.0 219.0,136.0 225.0,133.0 229.0,129.0 234.0,127.4 236.0,131.0 241.0,132.0 246.0,130.0 250.0,131.0 252.0,136.0 254.0,140.0 257.0,143.0 259.0,147.0 261.0,151.0 263.0,148.6 264.4,153.0 265.0,156.0 271.0,157.0"/>
<polyline points="187.0,144.0 181.0,144.0 172.0,145.0 169.0,146.0 170.0,149.0 171.0,153.0 174.0,155.4 176.0,159.0 182.0,158.6 187.0,161.0 190.0,164.0 190.0,167.0 185.0,169.4 177.0,171.0 169.0,171.4 165.0,170.6 158.0,167.0"/>
<polyline points="257.0,101.4 256.0,103.0 254.0,106.0 257.0,107.0 258.0,110.0 261.0,109.0 264.4,113.0 266.0,117.0 270.4,120.0"/>
<polyline points="264.4,192.0 267.0,188.0 270.4,186.0"/>
<polyline points="266.6,192.0 270.4,188.6"/>
<polyline points="115.0,144.0 130.0,143.6 130.6,146.0 128.0,149.4 131.0,153.0 133.0,156.6 131.0,160.0 132.0,163.0 137.0,165.4 143.0,165.0 148.0,162.0 152.0,161.0 156.0,163.0 158.0,167.0 158.0,172.0 157.0,177.0 155.0,180.0 149.0,181.0 143.0,182.0 137.0,183.0 133.0,180.0 130.0,179.4 127.0,182.0 125.0,184.0 119.0,180.0 115.0,182.0 111.0,187.0 108.0,192.4"/>
<polyline points="115.0,144.0 114.0,150.0 113.0,154.0 107.0,156.0 104.0,159.0 103.0,163.0 100.0,169.0 95.0,175.0 90.0,180.0 87.0,184.0 85.4,189.0 85.4,192.4"/>
</g>
<rect x="59.3" y="10.8" width="212.4" height="181.6" fill="none" stroke="#000" stroke-width="1.1"/>
<path d="M59.3 10.8h-4.6M59.3 41.1h-4.6M59.3 71.3h-4.6M59.3 101.6h-4.6M59.3 131.9h-4.6M59.3 162.1h-4.6M59.3 192.4h-4.6M59.3 192.4v4.8M89.6 192.4v4.8M120.0 192.4v4.8M150.3 192.4v4.8M180.7 192.4v4.8M211.0 192.4v4.8M241.4 192.4v4.8M271.7 192.4v4.8" stroke="#000" stroke-width="1.0" fill="none"/>
<text class="tl" x="43.9" y="16.8" text-anchor="end">33°N</text>
<text class="tl" x="43.9" y="77.3" text-anchor="end">31°N</text>
<text class="tl" x="43.9" y="137.9" text-anchor="end">29°N</text>
<text class="tl" x="43.9" y="198.4" text-anchor="end">27°N</text>
<text class="tl" x="59.3" y="222.0" text-anchor="middle">102°E</text>
<text class="tl" x="120.0" y="222.0" text-anchor="middle">104°E</text>
<text class="tl" x="180.7" y="222.0" text-anchor="middle">106°E</text>
<text class="tl" x="241.4" y="222.0" text-anchor="middle">108°E</text>
<rect x="63.5" y="15.4" width="20.6" height="17.6" fill="#fff" stroke="#000" stroke-width="0.6"/>
<text class="pl" x="73.8" y="27.6" text-anchor="middle">(c)</text>
</g>
<g transform="translate(271.2,223.0)">
<rect x="59.3" y="10.8" width="212.4" height="181.6" fill="#d0d0d0"/>
<g clip-path="url(#clipd)">
<rect x="71.6" y="7.8" width="195.8" height="187.6" fill="#2a8cf8"/>
<g>
<rect x="66.6" y="2.8" width="205.8" height="197.6" fill="#2a8cf8"/>
<polygon fill="#2a8cf8" points="68.8,5.0 148.8,5.0 130.3,22.0 120.5,30.8 110.6,39.5 100.7,51.6 92.0,63.7 84.3,73.5 74.3,87.0 68.8,87.0"/>
<polygon fill="#1eb0fa" points="68.8,89.0 74.3,88.0 86.5,73.5 93.1,65.9 100.7,54.9 109.5,45.0 117.2,39.5 128.1,34.1 130.2,24.3 143.4,18.8 150.0,16.6 159.8,21.0 166.4,25.4 165.3,31.9 160.9,41.8 150.0,47.3 144.5,56.0 139.0,64.0 132.8,74.0 123.8,79.0 114.8,88.0 112.8,98.0 119.8,108.0 130.8,115.0 137.8,124.0 139.8,129.0 148.8,117.0 164.8,115.0 183.8,107.0 198.8,99.0 218.8,99.0 248.8,99.0 248.8,122.0 128.8,197.0 120.8,175.0 112.8,169.0 100.8,159.0 90.8,149.0 81.8,138.0 75.8,126.0 74.3,121.0 68.8,121.0"/>
<polygon fill="#1eb0fa" points="150.8,29.0 142.8,49.0 134.8,63.0 126.8,81.0 128.8,101.0 136.8,107.0 152.8,109.0 158.8,101.0 148.8,87.0 151.2,83.4 167.8,93.4 174.8,88.6 186.8,92.0 198.8,93.0 202.8,97.0 204.8,93.0 224.8,88.0 248.8,85.0 268.8,80.0 268.8,127.0 128.8,127.0 113.8,107.0 108.8,77.0 123.8,47.0 140.8,27.0"/>
<polygon fill="#1eb0fa" points="196.8,133.0 196.8,103.0 204.8,93.0 224.8,88.0 248.8,85.0 263.8,81.0 268.8,81.0 268.8,133.0"/>
<polygon fill="#1eb0fa" points="198.8,25.0 213.8,24.0 207.8,33.0"/>
<polygon fill="#a5d3f2" points="68.8,104.0 74.3,95.0 79.8,87.0 85.8,76.0 88.8,68.0 96.3,57.6 104.8,47.0 111.8,41.5 124.8,36.3 135.7,29.7 146.7,23.2 157.7,24.3 155.5,29.7 145.6,40.7 141.2,50.6 135.7,58.2 131.4,65.9 128.1,73.0 122.0,76.0 111.0,87.0 108.8,98.0 117.0,109.0 128.6,116.7 133.8,123.3 136.8,133.0 142.8,129.0 148.8,122.5 163.3,121.0 177.8,116.7 192.4,111.6 207.0,108.7 206.8,110.0 218.8,118.0 228.8,117.0 248.8,103.0 256.8,97.0 288.8,97.0 288.8,247.0 128.8,247.0 139.0,181.0 125.9,175.5 117.1,168.4 110.0,163.0 97.9,152.9 89.2,144.1 80.4,132.0 74.3,115.0 68.8,115.0"/>
<polygon fill="#1eb0fa" points="164.8,101.0 248.8,101.0 228.8,117.0 218.8,118.0 206.8,110.0 188.8,109.0 168.8,117.0 164.8,115.0"/>
<polygon fill="#1eb0fa" points="206.8,149.4 218.8,143.0 226.8,129.0 234.8,125.0 245.8,132.0 234.8,143.0 226.8,146.0 208.8,150.6"/>
<polygon fill="#1eb0fa" points="259.8,115.0 263.8,113.0 268.8,113.0 268.8,121.4 263.8,121.4"/>
<polygon fill="#1eb0fa" points="188.8,190.0 208.8,175.0 220.8,172.0 234.8,169.0 244.8,159.0 254.8,162.0 246.8,177.0 252.8,192.0 252.8,197.0 188.8,197.0"/>
<polygon fill="#a5d3f2" points="222.8,192.0 228.8,188.0 234.8,192.0 234.8,197.0 222.8,197.0"/>
<polygon fill="#4068e8" points="68.8,5.0 138.8,5.0 121.6,22.0 111.7,31.9 101.8,42.8 93.1,53.8 85.4,64.8 78.8,73.5 74.3,79.0 68.8,79.0"/>
<polygon fill="#1c1cf0" points="68.8,5.0 125.8,5.0 110.6,22.0 100.7,33.0 90.9,45.0 83.2,54.9 78.8,60.4 74.3,66.0 68.8,66.0"/>
<polygon fill="#8b24e8" points="68.8,5.0 103.8,5.0 89.8,22.0 84.3,28.6 78.8,36.3 74.3,42.0 68.8,42.0"/>
<polygon fill="#2a8cf8" points="58.8,133.0 74.8,133.0 86.8,153.0 104.8,173.0 124.8,192.4 124.8,197.0 58.8,197.0"/>
<polygon fill="#4068e8" points="58.8,143.0 74.8,143.0 88.8,165.0 104.8,183.0 112.8,192.4 112.8,197.0 58.8,197.0"/>
<polygon fill="#1c1cf0" points="58.8,161.0 74.8,161.0 80.8,175.0 88.8,183.0 96.8,192.4 96.8,197.0 58.8,197.0"/>
<polygon fill="#4068e8" points="180.8,5.0 180.8,11.0 188.8,14.0 208.8,20.0 228.8,27.0 244.8,17.4 263.8,31.0 268.8,31.0 268.8,5.0"/>
<polygon fill="#4068e8" points="222.8,27.4 254.8,35.0 249.8,55.0 235.8,72.0 224.8,71.0 221.2,55.0"/>
<polygon fill="#4068e8" points="256.8,69.0 263.8,67.0 268.8,67.0 268.8,73.4 263.8,73.4"/>
<polygon fill="#1c1cf0" points="198.8,5.0 198.8,10.6 204.8,13.0 214.8,13.4 220.8,10.6 220.8,5.0"/>
<polygon fill="#d9ebf8" points="87.6,76.0 90.9,69.1 97.4,60.4 106.2,49.4 112.8,43.9 122.7,41.2 133.0,38.5 134.6,42.9 133.5,53.9 129.2,60.4 125.9,69.1 119.8,76.0 109.2,87.0 107.0,98.0 115.2,109.0 125.3,116.7 131.9,125.4 134.1,136.6 140.1,134.4 150.0,132.2 164.2,133.8 173.1,131.0 188.4,124.9 208.7,131.0 201.0,145.8 191.7,147.4 183.5,157.3 190.0,165.0 187.3,169.3 173.8,173.9 165.3,177.1 152.2,179.3 139.0,177.1 127.0,171.7 118.2,165.1 108.9,158.3 101.2,151.8 92.4,143.0 83.1,132.0 77.1,117.8 76.0,109.0 74.3,103.0 75.6,98.0 81.7,87.0"/>
<polygon fill="#d9ebf8" points="181.8,159.0 188.8,163.0 189.8,167.0 180.8,177.0 166.8,178.6 166.8,163.0"/>
<polygon fill="#d9ebf8" points="215.8,162.0 225.8,156.0 232.8,161.0 226.8,167.0"/>
<polygon fill="#d9ebf8" points="243.8,117.0 246.8,115.0 263.8,129.0 268.8,131.0 268.8,134.0 263.8,133.0"/>
<polygon fill="#ffd21e" points="88.1,76.0 89.8,71.3 95.2,65.9 104.0,57.1 111.7,48.3 127.2,56.0 124.8,65.9 122.7,72.0 117.6,76.0 105.9,87.0 104.1,98.0 112.3,109.0 122.0,116.7 128.6,125.4 131.9,135.0 131.9,139.9 139.0,137.7 150.0,134.9 163.1,137.1 169.8,138.1 188.4,140.3 189.5,143.6 180.7,156.2 173.1,166.1 168.6,169.5 160.9,173.9 151.1,176.1 139.0,173.9 128.1,168.4 119.3,161.8 112.2,157.2 104.5,150.7 95.7,141.9 85.9,130.9 79.8,117.8 78.7,109.0 76.3,105.0 77.4,98.0 83.6,87.0"/>
<polygon fill="#ffa000" points="90.9,76.0 92.0,72.4 97.4,67.0 106.2,58.2 111.7,51.0 122.7,56.0 121.0,65.9 118.8,72.0 113.2,76.0 99.5,87.0 100.8,98.0 108.5,109.0 117.7,116.7 124.2,126.5 128.6,135.3 130.2,141.0 139.0,139.9 150.0,137.7 162.0,140.4 165.4,143.0 169.2,147.4 168.7,152.9 166.5,163.9 158.8,170.6 150.0,172.8 139.0,170.6 129.2,165.1 120.4,158.5 115.5,155.1 107.8,148.5 99.0,139.7 89.2,129.8 83.1,117.8 82.0,109.0 80.9,105.0 83.1,98.0 90.7,87.0"/>
<polygon fill="#ffa000" points="170.3,146.9 175.2,146.3 175.2,149.6 172.0,151.8"/>
<polygon fill="#ff7800" points="92.4,91.3 95.7,98.0 104.1,109.0 112.2,115.6 118.8,125.4 122.0,135.3 126.4,141.9 130.2,143.7 134.6,149.7 140.1,142.6 150.0,140.4 160.4,143.2 163.7,151.9 162.6,161.8 157.1,167.8 150.0,170.0 140.7,167.8 131.3,162.9 124.8,157.4 119.9,152.9 111.1,146.3 102.3,137.5 92.4,127.6 86.4,116.7 87.0,109.0 89.6,98.0"/>
<polygon fill="#ff7800" points="111.1,54.9 113.9,55.4 112.4,71.0 110.6,71.0"/>
<polygon fill="#f84800" points="93.0,102.0 89.8,108.3 87.2,117.1 94.3,126.6 112.8,145.0 119.1,130.8 112.5,120.0 103.5,110.9 98.7,107.6 93.0,102.0"/>
<polygon fill="#e60008" points="93.5,105.0 97.5,109.0 102.3,112.3 111.1,121.1 117.1,130.9 112.2,141.9 104.5,134.2 95.7,125.4 89.2,116.7 91.5,109.0"/>
<polygon fill="#cc2030" points="92.4,113.4 101.2,120.0 112.2,127.6 116.0,132.6 113.8,137.5 106.7,132.6 97.9,125.4 91.9,118.3"/>
<polygon fill="#f84800" points="144.7,143.1 141.4,149.0 136.4,162.8 150.0,167.3 155.2,165.4 159.4,161.9 156.3,143.9 144.7,143.1"/>
<polygon fill="#e60008" points="145.6,144.8 154.9,145.4 157.7,161.3 154.4,164.0 150.0,165.6 138.5,161.8 142.9,149.7"/>
<polygon fill="#b81224" points="148.9,153.6 150.5,153.6 150.7,160.7 148.9,160.7"/>
</g></g>
<g clip-path="url(#clipf)" fill="none" stroke="#202020" stroke-width="0.8" stroke-linejoin="round">
<polyline points="127.5,10.8 127.3,14.0 131.0,17.2 137.5,20.2 145.4,21.8 151.0,21.6 154.0,22.2 158.5,20.7 162.4,18.0 164.5,16.0 162.0,14.2 164.5,13.0 170.0,13.0 173.7,14.9 175.3,17.7 178.6,15.5 183.8,16.6 185.0,19.0"/>
<polyline points="164.5,16.0 170.0,18.2 173.0,17.6 175.3,17.7"/>
<polyline points="185.0,19.0 195.0,20.0 203.0,21.0 208.0,20.0 212.0,23.0 217.0,27.0 222.0,24.6 225.0,26.0 229.0,29.0 235.0,32.0 241.0,36.0 249.0,35.0 255.0,33.0 257.0,35.0 264.4,39.0 270.4,41.0"/>
<polyline points="255.0,33.0 253.0,37.0 251.0,42.0 256.0,48.0 254.0,53.0 249.0,57.0 245.0,61.0 242.0,67.0 239.0,73.0 235.0,77.0 232.0,75.0 229.0,76.0 225.0,80.0 223.0,85.0 219.0,91.0 214.0,97.0 207.0,100.0 202.0,98.0 200.0,94.0 195.0,93.0 189.0,94.0 184.0,92.0 179.0,90.0 174.0,89.0 171.0,92.0 168.0,96.0 167.0,100.0 169.0,103.0"/>
<polyline points="270.4,82.0 264.4,84.0 259.0,86.0 254.0,90.0 256.0,94.0 258.0,97.0 257.0,103.0"/>
<polyline points="167.0,100.0 169.0,103.0 170.5,106.0 168.5,110.0 164.0,112.6 159.3,114.2 161.5,117.0 164.0,120.0"/>
<polyline points="159.0,115.0 162.0,118.0 165.0,122.0 168.0,127.0 171.0,132.0 177.0,134.0 181.0,136.0 183.0,141.0 187.0,144.0 193.0,146.0 199.0,146.6 205.0,145.0 210.0,141.0 214.0,137.0 219.0,136.0 225.0,133.0 229.0,129.0 234.0,127.4 236.0,131.0 241.0,132.0 246.0,130.0 250.0,131.0 252.0,136.0 254.0,140.0 257.0,143.0 259.0,147.0 261.0,151.0 263.0,148.6 264.4,153.0 265.0,156.0 271.0,157.0"/>
<polyline points="187.0,144.0 181.0,144.0 172.0,145.0 169.0,146.0 170.0,149.0 171.0,153.0 174.0,155.4 176.0,159.0 182.0,158.6 187.0,161.0 190.0,164.0 190.0,167.0 185.0,169.4 177.0,171.0 169.0,171.4 165.0,170.6 158.0,167.0"/>
<polyline points="257.0,101.4 256.0,103.0 254.0,106.0 257.0,107.0 258.0,110.0 261.0,109.0 264.4,113.0 266.0,117.0 270.4,120.0"/>
<polyline points="264.4,192.0 267.0,188.0 270.4,186.0"/>
<polyline points="266.6,192.0 270.4,188.6"/>
<polyline points="115.0,144.0 130.0,143.6 130.6,146.0 128.0,149.4 131.0,153.0 133.0,156.6 131.0,160.0 132.0,163.0 137.0,165.4 143.0,165.0 148.0,162.0 152.0,161.0 156.0,163.0 158.0,167.0 158.0,172.0 157.0,177.0 155.0,180.0 149.0,181.0 143.0,182.0 137.0,183.0 133.0,180.0 130.0,179.4 127.0,182.0 125.0,184.0 119.0,180.0 115.0,182.0 111.0,187.0 108.0,192.4"/>
<polyline points="115.0,144.0 114.0,150.0 113.0,154.0 107.0,156.0 104.0,159.0 103.0,163.0 100.0,169.0 95.0,175.0 90.0,180.0 87.0,184.0 85.4,189.0 85.4,192.4"/>
</g>
<rect x="59.3" y="10.8" width="212.4" height="181.6" fill="none" stroke="#000" stroke-width="1.1"/>
<path d="M59.3 10.8h-4.6M59.3 41.1h-4.6M59.3 71.3h-4.6M59.3 101.6h-4.6M59.3 131.9h-4.6M59.3 162.1h-4.6M59.3 192.4h-4.6M59.3 192.4v4.8M89.6 192.4v4.8M120.0 192.4v4.8M150.3 192.4v4.8M180.7 192.4v4.8M211.0 192.4v4.8M241.4 192.4v4.8M271.7 192.4v4.8" stroke="#000" stroke-width="1.0" fill="none"/>
<text class="tl" x="43.9" y="16.8" text-anchor="end">33°N</text>
<text class="tl" x="43.9" y="77.3" text-anchor="end">31°N</text>
<text class="tl" x="43.9" y="137.9" text-anchor="end">29°N</text>
<text class="tl" x="43.9" y="198.4" text-anchor="end">27°N</text>
<text class="tl" x="59.3" y="222.0" text-anchor="middle">102°E</text>
<text class="tl" x="120.0" y="222.0" text-anchor="middle">104°E</text>
<text class="tl" x="180.7" y="222.0" text-anchor="middle">106°E</text>
<text class="tl" x="241.4" y="222.0" text-anchor="middle">108°E</text>
<rect x="63.5" y="15.4" width="20.6" height="17.6" fill="#fff" stroke="#000" stroke-width="0.6"/>
<text class="pl" x="73.8" y="27.6" text-anchor="middle">(d)</text>
</g>
<rect x="141.40" y="457.6" width="29.51" height="12.8" fill="#8b24e8" stroke="#000" stroke-width="0.6"/>
<rect x="170.91" y="457.6" width="29.51" height="12.8" fill="#2340e0" stroke="#000" stroke-width="0.6"/>
<rect x="200.42" y="457.6" width="29.51" height="12.8" fill="#1e8df5" stroke="#000" stroke-width="0.6"/>
<rect x="229.93" y="457.6" width="29.51" height="12.8" fill="#4cbbf5" stroke="#000" stroke-width="0.6"/>
<rect x="259.44" y="457.6" width="29.51" height="12.8" fill="#fffacd" stroke="#000" stroke-width="0.6"/>
<rect x="288.96" y="457.6" width="29.51" height="12.8" fill="#ffc01e" stroke="#000" stroke-width="0.6"/>
<rect x="318.47" y="457.6" width="29.51" height="12.8" fill="#ff7800" stroke="#000" stroke-width="0.6"/>
<rect x="347.98" y="457.6" width="29.51" height="12.8" fill="#e60008" stroke="#000" stroke-width="0.6"/>
<rect x="377.49" y="457.6" width="29.51" height="12.8" fill="#ffb0b2" stroke="#000" stroke-width="0.6"/>
<text class="cb" x="170.9" y="486.3" text-anchor="middle">0.002</text>
<text class="cb" x="229.9" y="486.3" text-anchor="middle">0.006</text>
<text class="cb" x="289.0" y="486.3" text-anchor="middle">0.01</text>
<text class="cb" x="348.0" y="486.3" text-anchor="middle">0.014</text>
</svg></body></html>
